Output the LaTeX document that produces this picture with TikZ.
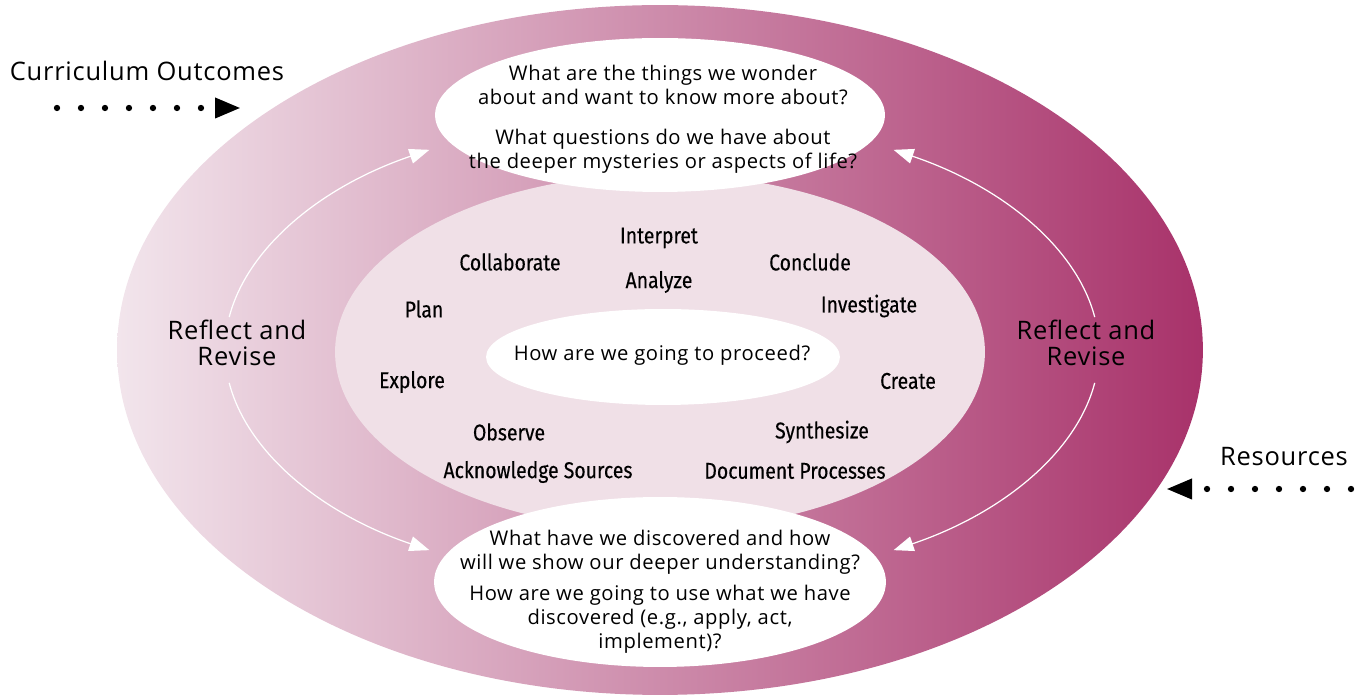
\documentclass[tikz,border=0pt]{standalone}
\usepackage{fontspec}
\setmainfont{Open Sans}[LetterSpace=3]
\newfontfamily\condfont[FakeStretch=0.85,FakeBold=0.3]{Fira Sans}
\usetikzlibrary{arrows.meta}
\definecolor{rimlight}{RGB}{242,229,236}
\definecolor{rimmid}{RGB}{208,152,178}
\definecolor{rimdark}{RGB}{168,50,106}
\definecolor{corepink}{RGB}{240,224,231}

\begin{document}
\begin{tikzpicture}[x=0.02cm,y=0.02cm,
    qtext/.style={align=center,font=\fontsize{11.5}{13.7}\selectfont},
    verb/.style={font=\condfont\fontsize{13}{15}\selectfont},
    side/.style={align=center,font=\fontsize{14.5}{14.8}\selectfont},
    loop/.style={white,line width=0.7pt,-{Triangle[length=0.4cm,width=0.3cm]}},
    dotline/.style={line width=3.6pt,line cap=round,dash pattern=on 0pt off 0.48cm,-{Triangle[length=0.52cm,width=0.38cm]}}]
  \useasboundingbox (0,0) rectangle (1363,696);
  \shade[left color=rimlight,middle color=rimmid,right color=rimdark] (660,346) ellipse[x radius=10.86cm,y radius=6.9cm];
  \fill[corepink] (660,344) ellipse[x radius=6.5cm,y radius=3.56cm];
  \fill[white] (660,581) ellipse[x radius=4.5cm,y radius=1.54cm];
  \fill[white] (660,114) ellipse[x radius=4.52cm,y radius=1.7cm];
  \fill[white] (663,339) ellipse[x radius=3.54cm,y radius=0.96cm];

  \coordinate (lt) at (229.2,378.9);
  \coordinate (lb) at (229.2,313.1);
  \coordinate (rt) at (1094.7,378.9);
  \coordinate (rb) at (1094.7,313.1);
  \draw[loop] (lt) arc[start angle=172,end angle=122,x radius=8.7cm,y radius=4.72cm];
  \draw[loop] (lb) arc[start angle=188,end angle=238,x radius=8.7cm,y radius=4.72cm];
  \draw[loop] (rt) arc[start angle=8,end angle=58,x radius=8.74cm,y radius=4.72cm];
  \draw[loop] (rb) arc[start angle=-8,end angle=-58,x radius=8.74cm,y radius=4.72cm];

  \node[qtext] (wonder) at (663,577) {What are the things we wonder\\about and want to know more about?\\[9pt]What questions do we have about\\the deeper mysteries or aspects of life?};
  \node[qtext] (discover) at (660,104) {What have we discovered and how\\will we show our deeper understanding?\\[4pt]How are we going to use what we have\\discovered (e.g., apply, act,\\implement)?};
  \node[qtext] (proceed) at (662,341) {How are we going to proceed?};

  \node[verb] (interp) at (659,458) {Interpret};
  \node[verb] (collab) at (510,434) {Collaborate};
  \node[verb] (concl) at (810,434) {Conclude};
  \node[verb] (analyze) at (659,414) {Analyze};
  \node[verb] (plan) at (424,387) {Plan};
  \node[verb] (invest) at (869,390) {Investigate};
  \node[verb] (explore) at (412,314) {Explore};
  \node[verb] (create) at (908,315) {Create};
  \node[verb] (observe) at (509,264) {Observe};
  \node[verb] (synth) at (822,264) {Synthesize};
  \node[verb] (acksrc) at (538,224) {Acknowledge Sources};
  \node[verb] (docproc) at (795,225) {Document Processes};

  \node[side] (reflL) at (237,353) {Reflect and\\Revise};
  \node[side] (reflR) at (1086,353) {Reflect and\\Revise};

  \node[side] (outc) at (147,625) {Curriculum Outcomes};
  \coordinate (outcS) at (57,588);
  \coordinate (outcE) at (241,588);
  \draw[dotline] (outcS) -- (outcE);
  \node[side] (res) at (1284,239) {Resources};
  \coordinate (resS) at (1351,207);
  \coordinate (resE) at (1166,207);
  \draw[dotline] (resS) -- (resE);
\end{tikzpicture}
\end{document}
